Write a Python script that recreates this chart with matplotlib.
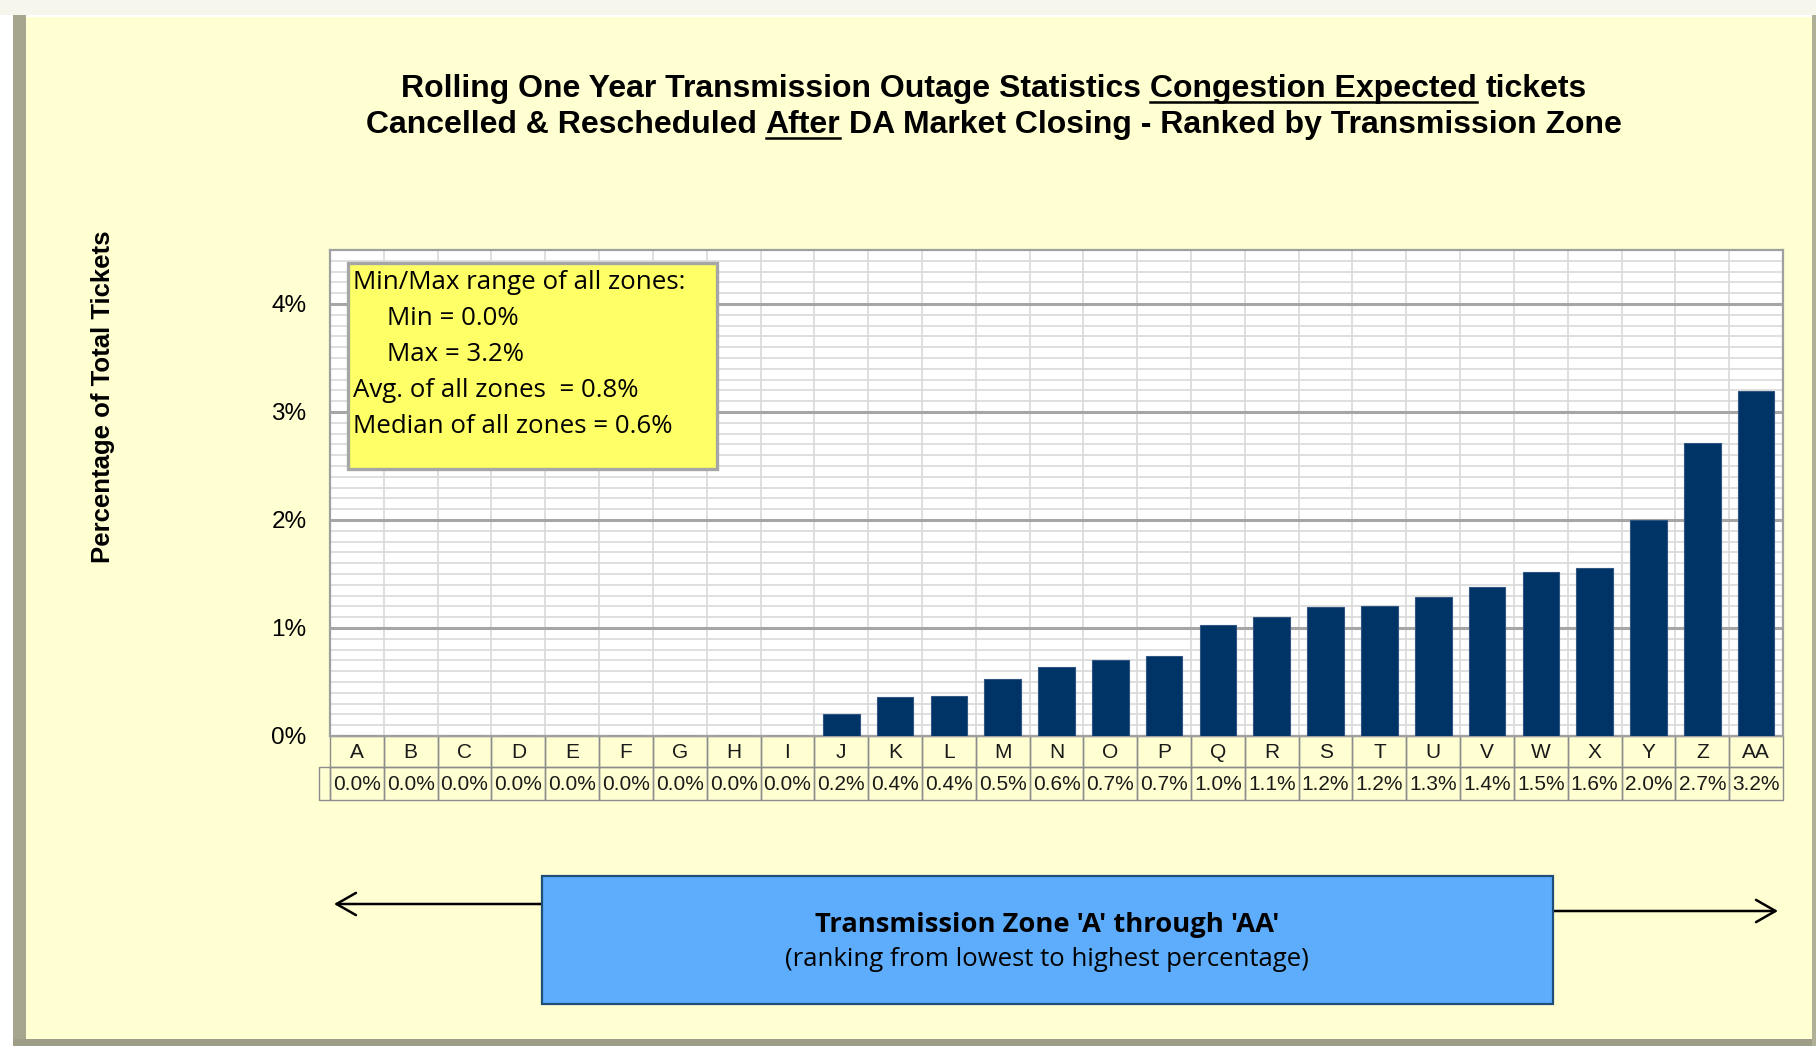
import matplotlib
matplotlib.use('Agg')
import matplotlib.pyplot as plt
import numpy as np
from matplotlib.patches import Rectangle, FancyArrowPatch
from matplotlib.lines import Line2D
from matplotlib.ticker import MultipleLocator, FuncFormatter
from matplotlib.transforms import blended_transform_factory

# ---------------- data ----------------
categories = ['A', 'B', 'C', 'D', 'E', 'F', 'G', 'H', 'I', 'J', 'K', 'L', 'M', 'N',
              'O', 'P', 'Q', 'R', 'S', 'T', 'U', 'V', 'W', 'X', 'Y', 'Z', 'AA']
values = [0.0, 0.0, 0.0, 0.0, 0.0, 0.0, 0.0, 0.0, 0.0, 0.20, 0.36, 0.37, 0.53, 0.64,
          0.70, 0.74, 1.03, 1.10, 1.19, 1.20, 1.29, 1.38, 1.52, 1.56, 2.00, 2.71, 3.19]
ytick_values = [0, 1, 2, 3, 4]
stats_lines = ["Min/Max range of all zones:", "Min = 0.0%", "Max = 3.2%",
               "Avg. of all zones  = 0.8%", "Median of all zones = 0.6%"]
stats_indent = [False, True, True, False, False]
title_line1 = [("Rolling One Year Transmission Outage Statistics", False),
               ("Congestion Expected", True), ("tickets", False)]
title_line2 = [("Cancelled & Rescheduled", False), ("After", True),
               ("DA Market Closing - Ranked by Transmission Zone", False)]
ylabel = "Percentage of Total Tickets"
xbox_title = "Transmission Zone 'A' through 'AA'"
xbox_sub = "(ranking from lowest to highest percentage)"

plt.rcParams['font.family'] = ['Liberation Sans', 'DejaVu Sans']
BOXFONT = ['Open Sans', 'DejaVu Sans']

W, H = 1816, 1046
fig = plt.figure(figsize=(W / 100, H / 100), dpi=100)
fig.patch.set_facecolor('white')


def fx(x):
    return x / W


def fy(y):
    return 1 - y / H


def frect(x0, y0, x1, y1, **kw):
    r = Rectangle((fx(x0), fy(y1)), fx(x1) - fx(x0), fy(y0) - fy(y1),
                  transform=fig.transFigure, **kw)
    fig.add_artist(r)
    return r


BG = '#FFFFD2'
# outer frame
frect(0, 0, W, 15, facecolor='#F6F6EC', edgecolor='none', zorder=-20)
frect(13, 15, 26, H, facecolor='#A6A68E', edgecolor='none', zorder=-19)
frect(13, 1039, W, H, facecolor='#9E9E88', edgecolor='none', zorder=-19)
frect(1812, 15, W, H, facecolor='#B0B098', edgecolor='none', zorder=-19)
frect(26, 15, 1812, 1039, facecolor=BG, edgecolor='none', zorder=-18)
frect(26, 15, 1812, 17, facecolor='white', edgecolor='none', zorder=-17)

# ---------------- axes ----------------
L, R, T, B = 330, 1783, 250, 736
ax = fig.add_axes([fx(L), fy(B), fx(R) - fx(L), fy(T) - fy(B)])
ax.set_facecolor('white')
x = np.arange(len(categories))
ax.bar(x, values, width=0.68, color='#003366', edgecolor='#2F5683', linewidth=0.8, zorder=3)
ax.set_xlim(-0.5, len(categories) - 0.5)
ax.set_ylim(0, 4.5)
ax.set_yticks(ytick_values)
ax.yaxis.set_minor_locator(MultipleLocator(0.1))
ax.yaxis.set_major_formatter(FuncFormatter(lambda v, p: f'{v:.0f}%'))
ax.set_xticks(x)
ax.set_xticklabels([])
ax.set_xticks(np.arange(-0.5, len(categories), 1), minor=True)
ax.grid(which='minor', axis='both', color='#D9D9D9', lw=1.2)
ax.grid(which='major', axis='y', color='#A6A6A6', lw=2.2)
ax.grid(which='major', axis='x', visible=False)
ax.tick_params(axis='x', which='both', length=0)
ax.tick_params(axis='y', which='both', length=0, pad=17, labelsize=17.5)
ax.set_axisbelow(True)
for s in ax.spines.values():
    s.set_color('#A0A0A0')
    s.set_linewidth(1.6)

# ---------------- data table under axis ----------------
trans = blended_transform_factory(ax.transData, fig.transFigure)
EC = '#8C8C8C'
for i, (c, v) in enumerate(zip(categories, values)):
    ax.add_patch(Rectangle((i - 0.5, fy(767)), 1, fy(736) - fy(767), transform=trans,
                           facecolor='none', edgecolor=EC, lw=1.0, clip_on=False))
    ax.add_patch(Rectangle((i - 0.5, fy(800)), 1, fy(767) - fy(800), transform=trans,
                           facecolor='none', edgecolor=EC, lw=1.0, clip_on=False))
    ax.text(i, fy(752), c, transform=trans, ha='center', va='center', fontsize=15,
            color='#1A1A1A', clip_on=False)
    ax.text(i, fy(784), f'{v:.1f}%', transform=trans, ha='center', va='center',
            fontsize=15, color='#1A1A1A', clip_on=False)
frect(319, 767, 330, 800, facecolor='none', edgecolor=EC, lw=1.0, zorder=2)

# ---------------- y label ----------------
fig.text(fx(103), fy(397), ylabel, rotation=90, ha='center', va='center',
         fontsize=18.5, fontweight='bold')

# ---------------- title with underlines ----------------
renderer = fig.canvas.get_renderer()


def text_width(s, **kw):
    t = fig.text(0, 0, s, **kw)
    w = t.get_window_extent(renderer).width
    t.remove()
    return w


def rich_line(parts, cx, base_y, **kw):
    sp = text_width('x x', **kw) - text_width('xx', **kw)
    widths = [text_width(s, **kw) for s, _ in parts]
    total = sum(widths) + sp * (len(parts) - 1)
    xpos = cx - total / 2
    for (s, ul), w in zip(parts, widths):
        fig.text(fx(xpos), fy(base_y), s, ha='left', va='baseline', **kw)
        if ul:
            fig.add_artist(Line2D([fx(xpos), fx(xpos + w)], [fy(base_y + 5), fy(base_y + 5)],
                                  transform=fig.transFigure, color='black', lw=1.8))
        xpos += w + sp


rich_line(title_line1, 994, 97, fontsize=23, fontweight='bold')
rich_line(title_line2, 994, 133, fontsize=23, fontweight='bold')

# ---------------- stats box ----------------
frect(348, 263, 717, 469, facecolor='#FFFF66', edgecolor='#A6A6A6', lw=2.4, zorder=5)
for line, ind, base in zip(stats_lines, stats_indent, [289, 325, 361, 397, 433]):
    fig.text(fx(387 if ind else 353), fy(base), line, ha='left', va='baseline',
             fontsize=18.6, family=BOXFONT, zorder=6)

# ---------------- x explanation box with arrows ----------------
frect(542, 876, 1553, 1004, facecolor='#5EADFC', edgecolor='#1F4E79', lw=1.6, zorder=5)
fig.text(fx(1047), fy(932), xbox_title, ha='center', va='baseline', fontsize=19.7,
         fontweight='bold', family=BOXFONT, zorder=6)
fig.text(fx(1047), fy(966), xbox_sub, ha='center', va='baseline', fontsize=18.5,
         family=BOXFONT, zorder=6)
for (xa, ya), (xb, yb) in [((542, 904), (334, 904)), ((1553, 911), (1778, 911))]:
    fig.add_artist(FancyArrowPatch((fx(xa), fy(ya)), (fx(xb), fy(yb)),
                                   transform=fig.transFigure,
                                   arrowstyle='->,head_length=0.7,head_width=0.4',
                                   mutation_scale=20, lw=1.8, color='black',
                                   shrinkA=0, shrinkB=0, zorder=4))

fig.savefig('out.png', dpi=100, facecolor=fig.get_facecolor())
